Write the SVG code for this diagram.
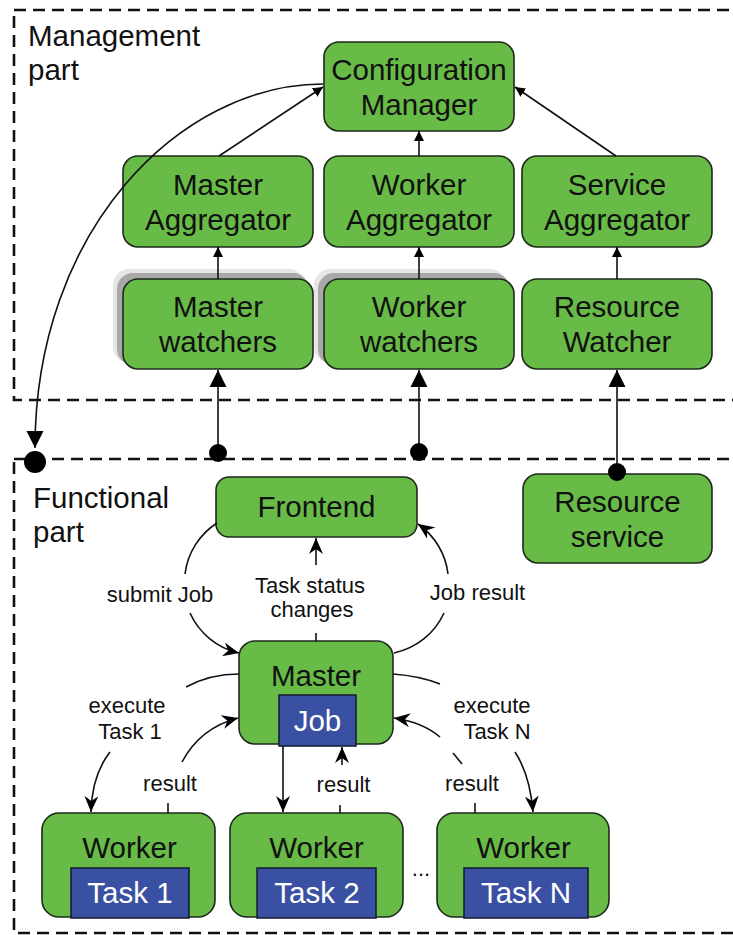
<svg xmlns="http://www.w3.org/2000/svg" width="733" height="935" viewBox="0 0 733 935">
  <style>
    .node { fill: #67bb46; stroke: #1e2a1a; stroke-width: 1.6; }
    .inner { fill: #3a50a2; stroke: #151a30; stroke-width: 1.5; }
    .zone { fill: none; stroke: #111; stroke-width: 2.6; stroke-dasharray: 12 7; }
    .lbl { font-family: "Liberation Sans", Arial, sans-serif; font-size: 29.5px; fill: #111; text-anchor: middle; }
    .wlbl { font-family: "Liberation Sans", Arial, sans-serif; font-size: 29.5px; fill: #fff; text-anchor: middle; }
    .zlbl { font-family: "Liberation Sans", Arial, sans-serif; font-size: 29.5px; fill: #111; }
    .elbl { font-family: "Liberation Sans", Arial, sans-serif; font-size: 22px; fill: #111; text-anchor: middle; }
    .wire { fill: none; stroke: #111; stroke-width: 1.6; }
    .dot { fill: #000; }
  </style>
  <defs>
    <marker id="tri" viewBox="0 0 10 10" refX="10" refY="5" markerWidth="10" markerHeight="10" markerUnits="userSpaceOnUse" orient="auto">
      <path d="M0,0 L10,5 L0,10 z" fill="#000"/>
    </marker>
    <marker id="triBig" viewBox="0 0 10 10" refX="10" refY="5" markerWidth="17" markerHeight="18" markerUnits="userSpaceOnUse" orient="auto">
      <path d="M0,0 L10,5 L0,10 z" fill="#000"/>
    </marker>
    <marker id="stealth" viewBox="0 0 16 14" refX="16" refY="7" markerWidth="16" markerHeight="14" markerUnits="userSpaceOnUse" orient="auto">
      <path d="M0,0 L16,7 L0,14 L5,7 z" fill="#000"/>
    </marker>
  </defs>

  <!-- zones -->
  <g id="management-zone">
    <rect class="zone" x="14" y="10" width="740" height="390"/>
    <text class="zlbl" x="28" y="46">Management</text>
    <text class="zlbl" x="28" y="80">part</text>
  </g>
  <g id="functional-zone">
    <rect class="zone" x="14" y="459" width="740" height="474"/>
    <text class="zlbl" x="33" y="508">Functional</text>
    <text class="zlbl" x="33" y="542">part</text>
  </g>

  <!-- management nodes -->
  <g id="config-manager">
    <rect class="node" x="324" y="42" width="190" height="89" rx="15"/>
    <text class="lbl" x="419" y="80">Configuration</text>
    <text class="lbl" x="419" y="115">Manager</text>
  </g>
  <g id="master-aggregator">
    <rect class="node" x="123" y="156" width="190" height="91" rx="15"/>
    <text class="lbl" x="218" y="195">Master</text>
    <text class="lbl" x="218" y="230">Aggregator</text>
  </g>
  <g id="worker-aggregator">
    <rect class="node" x="324" y="156" width="190" height="91" rx="15"/>
    <text class="lbl" x="419" y="195">Worker</text>
    <text class="lbl" x="419" y="230">Aggregator</text>
  </g>
  <g id="service-aggregator">
    <rect class="node" x="522" y="156" width="190" height="91" rx="15"/>
    <text class="lbl" x="617" y="195">Service</text>
    <text class="lbl" x="617" y="230">Aggregator</text>
  </g>
  <g id="master-watchers">
    <rect x="113" y="269" width="192" height="94" rx="16" fill="#e6e6e6"/>
    <rect x="117" y="273" width="192" height="92" rx="16" fill="#a8a8a8"/>
    <rect class="node" x="123" y="279" width="190" height="90" rx="15"/>
    <text class="lbl" x="218" y="317">Master</text>
    <text class="lbl" x="218" y="352">watchers</text>
  </g>
  <g id="worker-watchers">
    <rect x="314" y="269" width="192" height="94" rx="16" fill="#e6e6e6"/>
    <rect x="318" y="273" width="192" height="92" rx="16" fill="#a8a8a8"/>
    <rect class="node" x="324" y="279" width="190" height="90" rx="15"/>
    <text class="lbl" x="419" y="317">Worker</text>
    <text class="lbl" x="419" y="352">watchers</text>
  </g>
  <g id="resource-watcher">
    <rect class="node" x="522" y="279" width="190" height="90" rx="15"/>
    <text class="lbl" x="617" y="317">Resource</text>
    <text class="lbl" x="617" y="352">Watcher</text>
  </g>

  <!-- functional nodes -->
  <g id="frontend">
    <rect class="node" x="216" y="477" width="201" height="60" rx="13"/>
    <text class="lbl" x="316.5" y="517">Frontend</text>
  </g>
  <g id="resource-service">
    <rect class="node" x="523" y="474" width="189" height="89" rx="15"/>
    <text class="lbl" x="617.5" y="512">Resource</text>
    <text class="lbl" x="617.5" y="547">service</text>
  </g>
  <g id="master">
    <rect class="node" x="239" y="641" width="154" height="103" rx="16"/>
    <text class="lbl" x="316" y="686">Master</text>
    <rect class="inner" x="279" y="695" width="77" height="51"/>
    <text class="wlbl" x="317.5" y="731">Job</text>
  </g>
  <g id="worker-1">
    <rect class="node" x="42" y="813" width="173" height="104" rx="17"/>
    <text class="lbl" x="129.5" y="858">Worker</text>
    <rect class="inner" x="71" y="868" width="118" height="50"/>
    <text class="wlbl" x="130" y="903">Task 1</text>
  </g>
  <g id="worker-2">
    <rect class="node" x="230" y="813" width="173" height="104" rx="17"/>
    <text class="lbl" x="316.5" y="858">Worker</text>
    <rect class="inner" x="257" y="868" width="119" height="50"/>
    <text class="wlbl" x="317" y="903">Task 2</text>
  </g>
  <text class="elbl" x="421" y="876">...</text>
  <g id="worker-n">
    <rect class="node" x="437" y="813" width="172" height="104" rx="17"/>
    <text class="lbl" x="523.5" y="858">Worker</text>
    <rect class="inner" x="464" y="868" width="124" height="50"/>
    <text class="wlbl" x="526" y="903">Task N</text>
  </g>

  <!-- connectors -->
  <g id="connectors">
    <!-- management hierarchy -->
    <line class="wire" x1="219" y1="156" x2="323" y2="87" marker-end="url(#tri)"/>
    <line class="wire" x1="419" y1="156" x2="419" y2="131" marker-end="url(#tri)"/>
    <line class="wire" x1="616" y1="156" x2="515" y2="87" marker-end="url(#tri)"/>
    <line class="wire" x1="218" y1="279" x2="218" y2="247" marker-end="url(#tri)"/>
    <line class="wire" x1="419" y1="279" x2="419" y2="247" marker-end="url(#tri)"/>
    <line class="wire" x1="617" y1="279" x2="617" y2="247" marker-end="url(#tri)"/>

    <!-- configuration pushed down to functional part -->
    <path class="wire" d="M323,84 C180,84 35,230 35,448" marker-end="url(#triBig)"/>
    <circle class="dot" cx="35" cy="462" r="11"/>

    <!-- watchers fed from functional part -->
    <line class="wire" x1="218" y1="453" x2="218" y2="370" marker-end="url(#triBig)"/>
    <circle class="dot" cx="218" cy="453" r="9"/>
    <line class="wire" x1="419" y1="452" x2="419" y2="370" marker-end="url(#triBig)"/>
    <circle class="dot" cx="419" cy="452" r="9"/>
    <line class="wire" x1="617" y1="472" x2="617" y2="370" marker-end="url(#triBig)"/>
    <circle class="dot" cx="617" cy="472" r="9"/>

    <!-- submit Job -->
    <path class="wire" d="M217,523 A71,71 0 0 0 185,574"/>
    <path class="wire" d="M190,613 A71,71 0 0 0 239,653" marker-end="url(#stealth)"/>
    <text class="elbl" x="160" y="602">submit Job</text>

    <!-- Job result -->
    <path class="wire" d="M394,653 A71,71 0 0 0 444,613"/>
    <path class="wire" d="M448,574 A71,71 0 0 0 418,524" marker-end="url(#stealth)"/>
    <text class="elbl" x="477.5" y="600">Job result</text>

    <!-- Task status changes -->
    <line class="wire" x1="316" y1="641" x2="316" y2="633"/>
    <line class="wire" x1="316" y1="565" x2="316" y2="538" marker-end="url(#stealth)"/>
    <text class="elbl" x="310" y="593">Task status</text>
    <text class="elbl" x="312" y="617">changes</text>

    <!-- execute Task 1 / result -->
    <path class="wire" d="M239,674 Q210,674 186,687"/>
    <path class="wire" d="M110,752 Q92,775 91,812" marker-end="url(#stealth)"/>
    <text class="elbl" x="127" y="713">execute</text>
    <text class="elbl" x="130" y="739">Task 1</text>
    <line class="wire" x1="168" y1="813" x2="168" y2="803"/>
    <path class="wire" d="M182,762 Q200,728 238,718" marker-end="url(#stealth)"/>
    <text class="elbl" x="170" y="791">result</text>

    <!-- Task 2 -->
    <line class="wire" x1="283" y1="746" x2="283" y2="812" marker-end="url(#stealth)"/>
    <line class="wire" x1="340" y1="813" x2="340" y2="805"/>
    <line class="wire" x1="342" y1="765" x2="342" y2="747" marker-end="url(#stealth)"/>
    <text class="elbl" x="343.5" y="792">result</text>

    <!-- execute Task N / result -->
    <path class="wire" d="M393,674 Q420,676 440,684"/>
    <path class="wire" d="M515,752 Q530,775 533,812" marker-end="url(#stealth)"/>
    <text class="elbl" x="492" y="713">execute</text>
    <text class="elbl" x="497" y="739">Task N</text>
    <line class="wire" x1="475" y1="813" x2="475" y2="803"/>
    <line class="wire" x1="453" y1="753" x2="462" y2="764"/>
    <path class="wire" d="M440,737 Q422,722 394,718" marker-end="url(#stealth)"/>
    <text class="elbl" x="472" y="791">result</text>
  </g>
</svg>
